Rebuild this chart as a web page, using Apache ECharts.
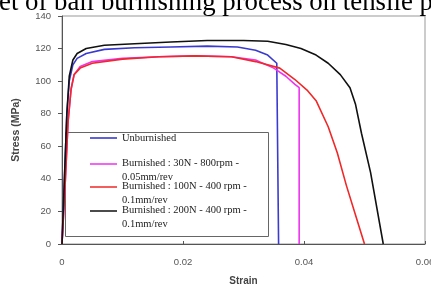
<!DOCTYPE html>
<html>
<head>
<meta charset="utf-8">
<script src="https://cdn.jsdelivr.net/npm/echarts@6/dist/echarts.min.js"></script>
<style>
html,body{margin:0;padding:0;background:#fff;}
#chart{width:431px;height:285px;}
</style>
</head>
<body>
<div id="chart"></div>
<script>
// series names / legend lines
var names = ['Unburnished', 'Burnished : 30N - 800rpm - 0.05mm/rev', 'Burnished : 100N - 400 rpm - 0.1mm/rev', 'Burnished : 200N - 400 rpm - 0.1mm/rev'];
var legendLines = [['Unburnished'], ['Burnished : 30N - 800rpm -', '0.05mm/rev'], ['Burnished : 100N - 400 rpm -', '0.1mm/rev'], ['Burnished : 200N - 400 rpm -', '0.1mm/rev']];
var colors = ['#3a3ad0', '#ee33ee', '#f02828', '#111111'];

// values
var strainUnb = [0, 0.0004, 0.0008, 0.0012, 0.0018, 0.0025, 0.004, 0.007, 0.012, 0.018, 0.024, 0.029, 0.032, 0.034, 0.0355, 0.0358, 0.0358];
var stressUnb = [0, 40, 80, 100, 110, 114, 117, 119.5, 120.5, 121, 121.5, 121, 119, 116, 111, 110, 0];

var strain30 = [0, 0.0005, 0.001, 0.0015, 0.002, 0.003, 0.005, 0.01, 0.016, 0.022, 0.028, 0.032, 0.035, 0.037, 0.0385, 0.0392, 0.0392];
var stress30 = [0, 35, 75, 95, 104, 109, 112, 114, 115, 115.5, 115, 113, 108, 103, 98, 96, 0];

var strain100 = [0, 0.0005, 0.001, 0.0015, 0.002, 0.003, 0.005, 0.01, 0.016, 0.022, 0.028, 0.032, 0.036, 0.0385, 0.0405, 0.042, 0.044, 0.0455, 0.047, 0.0485, 0.050];
var stress100 = [0, 35, 75, 95, 104, 108, 111, 113.5, 115, 115.5, 115, 112, 108, 101, 94.5, 88, 72, 56, 36, 18, 0];

var strain200 = [0, 0.0004, 0.0008, 0.0012, 0.0018, 0.0025, 0.004, 0.007, 0.012, 0.018, 0.024, 0.030, 0.034, 0.037, 0.0395, 0.042, 0.044, 0.046, 0.0476, 0.0485, 0.0495, 0.051, 0.0531];
var stress200 = [0, 40, 80, 103, 113, 117, 120, 122, 123, 124, 125, 125, 124.5, 122.5, 120, 116, 111, 104, 96, 86, 68, 44, 0];

var xTicks = {min: 0, max: 0.06, interval: 0.02};
var yTicks = {min: 0, max: 140, interval: 20};

function pairs(xs, ys){
	var out = [];
	for (var i = 0; i < xs.length; i++) out.push([xs[i], ys[i]]);
	return out;
}

var chart = echarts.init(document.getElementById('chart'));
var allData = [pairs(strainUnb, stressUnb), pairs(strain30, stress30), pairs(strain100, stress100), pairs(strain200, stress200)];

var series = [];
for (var i = 0; i < names.length; i++) {
	series.push({
		name: names[i],
		type: 'line',
		symbol: 'none',
		smooth: false,
		color: colors[i],
		lineStyle: {width: 1.6, color: colors[i]},
		data: allData[i]
	});
}

// one legend per entry; two-line entries get an icon whose line sits at the top,
// so it lines up with the first text line
var legendTops = [131, 156, 179, 203];
var topLineIcon = 'path://M0,0H28V1.6H0Z M0,14H0.05V14.05H0Z';
var legends = [];
for (var i = 0; i < names.length; i++) {
	var twoLines = legendLines[i].length > 1;
	legends.push({
		data: [names[i]],
		left: 90,
		top: legendTops[i],
		padding: 0,
		icon: twoLines ? topLineIcon : 'rect',
		itemWidth: 27,
		itemHeight: twoLines ? 14 : 1.6,
		selectedMode: false,
		formatter: (function(k){ return function(){ return legendLines[k].join('\n'); }; })(i),
		textStyle: {
			fontFamily: 'Liberation Serif',
			fontSize: 10.5,
			color: '#222',
			lineHeight: 14
		}
	});
}

option = {
	animation: false,
	title: {
		text: 'et of ball burnishing process on tensile p',
		left: -1,
		top: -11,
		padding: 0,
		textStyle: {fontFamily: 'Liberation Serif', fontSize: 26.8, fontWeight: 'normal', color: '#000'}
	},
	legend: legends,
	grid: {
		left: 62, right: 6, top: 16, bottom: 41,
		outerBoundsMode: 'none',
		show: true, borderColor: '#999', borderWidth: 1
	},
	graphic: [{
		type: 'rect',
		shape: {x: 65.5, y: 132.5, width: 203, height: 104},
		style: {fill: 'none', stroke: '#666', lineWidth: 1},
		z: 1
	}],
	xAxis: {
		type: 'value',
		min: xTicks.min, max: xTicks.max, interval: xTicks.interval,
		name: 'Strain',
		nameLocation: 'middle',
		nameGap: 32,
		nameTextStyle: {fontFamily: 'Liberation Sans', fontSize: 10, fontWeight: 'bold', color: '#444'},
		axisLine: {lineStyle: {color: '#555', width: 1}},
		axisTick: {inside: true, length: 3, lineStyle: {color: '#555'}},
		axisLabel: {margin: 13, fontFamily: 'Liberation Sans', fontSize: 9.5, color: '#555', hideOverlap: false},
		splitLine: {show: false}
	},
	yAxis: {
		type: 'value',
		min: yTicks.min, max: yTicks.max, interval: yTicks.interval,
		name: 'Stress (MPa)',
		nameLocation: 'middle',
		nameGap: 40,
		nameTextStyle: {fontFamily: 'Liberation Sans', fontSize: 10.5, fontWeight: 'bold', color: '#444'},
		axisLine: {show: true, lineStyle: {color: '#555', width: 1}},
		axisTick: {show: true, inside: false, length: 4, lineStyle: {color: '#555'}},
		axisLabel: {margin: 11, fontFamily: 'Liberation Sans', fontSize: 9.5, color: '#555'},
		splitLine: {show: false}
	},
	series: series
};

chart.setOption(option);
</script>
</body>
</html>
